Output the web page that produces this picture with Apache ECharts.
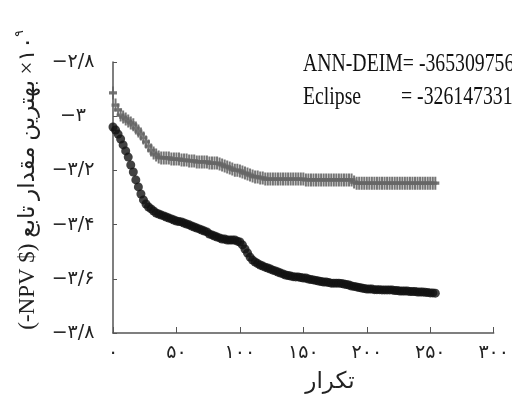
<!DOCTYPE html>
<html lang="fa">
<head>
    <meta charset="UTF-8">
    <title>ANN-DEIM / Eclipse</title>
    <script src="https://cdn.jsdelivr.net/npm/echarts@6/dist/echarts.min.js"></script>
    <style>
        html, body { margin: 0; padding: 0; background: #fff; }
    </style>
</head>
<body>
<div id="chart" style="width: 512px;height: 405px;"></div>
<script>
    // iterations sampled every 2 steps
    var iterations = Array.from({length: 128}, function (_, i) { return i * 2; });

    // best objective value (x 1e9)
    var annDeim = [
        -3.040, -3.051, -3.066, -3.084, -3.106, -3.128, -3.151, -3.180, -3.206, -3.235,
        -3.261, -3.287, -3.309, -3.324, -3.335, -3.342, -3.350, -3.357, -3.361, -3.365,
        -3.368, -3.372, -3.376, -3.379, -3.383, -3.387, -3.389, -3.390, -3.394, -3.398,
        -3.401, -3.405, -3.409, -3.413, -3.416, -3.420, -3.424, -3.427, -3.435, -3.438,
        -3.442, -3.446, -3.449, -3.453, -3.453, -3.457, -3.457, -3.457, -3.457, -3.461,
        -3.464, -3.475, -3.490, -3.505, -3.520, -3.531, -3.538, -3.544, -3.549, -3.553,
        -3.557, -3.560, -3.564, -3.568, -3.571, -3.575, -3.579, -3.582, -3.586, -3.588,
        -3.590, -3.592, -3.593, -3.593, -3.595, -3.597, -3.597, -3.601, -3.603, -3.604,
        -3.606, -3.608, -3.610, -3.612, -3.612, -3.614, -3.616, -3.616, -3.616, -3.616,
        -3.617, -3.619, -3.621, -3.623, -3.627, -3.628, -3.630, -3.632, -3.634, -3.636,
        -3.638, -3.638, -3.638, -3.640, -3.640, -3.640, -3.641, -3.641, -3.641, -3.641,
        -3.641, -3.643, -3.643, -3.645, -3.645, -3.645, -3.645, -3.647, -3.647, -3.647,
        -3.649, -3.649, -3.649, -3.650, -3.651, -3.652, -3.652, -3.653
    ];
    var eclipse = [
        -2.914, -2.959, -2.977, -2.996, -3.003, -3.010, -3.018, -3.025, -3.032, -3.044,
        -3.055, -3.066, -3.080, -3.095, -3.110, -3.125, -3.136, -3.143, -3.151, -3.154,
        -3.154, -3.154, -3.154, -3.158, -3.158, -3.158, -3.158, -3.162, -3.162, -3.162,
        -3.165, -3.165, -3.165, -3.169, -3.169, -3.169, -3.169, -3.169, -3.173, -3.173,
        -3.173, -3.173, -3.176, -3.180, -3.184, -3.187, -3.191, -3.195, -3.199, -3.199,
        -3.202, -3.206, -3.210, -3.213, -3.217, -3.221, -3.224, -3.224, -3.228, -3.228,
        -3.232, -3.232, -3.232, -3.232, -3.232, -3.232, -3.232, -3.232, -3.232, -3.232,
        -3.232, -3.232, -3.232, -3.232, -3.232, -3.232, -3.235, -3.235, -3.235, -3.235,
        -3.235, -3.235, -3.235, -3.235, -3.235, -3.235, -3.235, -3.235, -3.235, -3.235,
        -3.235, -3.235, -3.235, -3.235, -3.235, -3.243, -3.247, -3.247, -3.247, -3.247,
        -3.247, -3.247, -3.247, -3.247, -3.247, -3.247, -3.247, -3.247, -3.247, -3.247,
        -3.247, -3.247, -3.247, -3.247, -3.247, -3.247, -3.247, -3.247, -3.247, -3.247,
        -3.247, -3.247, -3.247, -3.247, -3.247, -3.247, -3.247, -3.247
    ];

    var xTickLabels = ['۰', '۵۰', '۱۰۰', '۱۵۰', '۲۰۰', '۲۵۰', '۳۰۰'];
    var yTickLabels = ['−۳/۸', '−۳/۶', '−۳/۴', '−۳/۲', '−۳', '−۲/۸'];
    var legendNames = ['ANN-DEIM', 'Eclipse'];
    var legendValues = ['-365309756', '-326147331'];
    var xTitle = 'تکرار';
    var yTitle = '(-NPV $) بهترین مقدار تابع\u200E ×۱۰';
    var yTitleExp = '۹';

    function pairs(xs, ys) {
        return ys.map(function (v, i) { return [xs[i], v]; });
    }

    var myChart = echarts.init(document.getElementById('chart'), null, {renderer: 'canvas'});
    var labelFont = "'DejaVu Sans', sans-serif";
    var serifFont = "'Liberation Serif', serif";
    var option = {
        backgroundColor: '#fff',
        animation: false,
        grid: {left: 113, right: 15, top: 62, bottom: 72},
        xAxis: {
            type: 'value',
            min: 0, max: 300, interval: 50,
            axisLine: {lineStyle: {color: '#555', width: 1.5}},
            axisTick: {inside: true, length: 6, lineStyle: {color: '#555'}},
            splitLine: {show: false},
            axisLabel: {
                margin: 11, color: '#222', fontSize: 19, fontFamily: labelFont,
                formatter: function (v) { return xTickLabels[Math.round(v / 50)]; }
            }
        },
        yAxis: {
            type: 'value',
            min: -3.8, max: -2.8, interval: 0.2,
            axisLine: {show: true, lineStyle: {color: '#555', width: 1.5}},
            axisTick: {show: true, inside: true, length: 4, lineStyle: {color: '#555'}},
            splitLine: {show: false},
            axisLabel: {
                margin: 40, align: 'center', color: '#222', fontSize: 19, fontFamily: labelFont,
                formatter: function (v) { return yTickLabels[Math.round((v + 3.8) / 0.2)]; }
            }
        },
        series: [
            {
                name: legendNames[1],
                type: 'scatter',
                data: pairs(iterations, eclipse),
                symbol: 'path://M3,0H5V3H8V5H5V8H3V5H0V3H3Z',
                symbolSize: [8, 13],
                itemStyle: {color: '#666', opacity: 0.9}
            },
            {
                name: legendNames[0],
                type: 'scatter',
                data: pairs(iterations, annDeim),
                symbol: 'circle',
                symbolSize: 9,
                itemStyle: {color: '#111'}
            }
        ],
        graphic: [
            {
                type: 'text', x: 303, y: 64, scaleX: 0.79,
                style: {
                    text: legendNames[0] + '= ' + legendValues[0],
                    fontFamily: serifFont, fontSize: 25,
                    fill: '#111', verticalAlign: 'middle'
                }
            },
            {
                type: 'text', x: 303, y: 97, scaleX: 0.79,
                style: {
                    text: legendNames[1],
                    fontFamily: serifFont, fontSize: 25,
                    fill: '#111', verticalAlign: 'middle'
                }
            },
            {
                type: 'text', x: 401, y: 97, scaleX: 0.79,
                style: {
                    text: '= ' + legendValues[1],
                    fontFamily: serifFont, fontSize: 25,
                    fill: '#111', verticalAlign: 'middle'
                }
            },
            {
                type: 'text', x: 330, y: 382,
                style: {
                    text: xTitle, fontFamily: labelFont, fontSize: 23,
                    fill: '#222', align: 'center', verticalAlign: 'middle'
                }
            },
            {
                type: 'text', x: 28, y: 180, rotation: Math.PI / 2,
                style: {
                    text: '{a|' + yTitle + '}{b|' + yTitleExp + '}',
                    align: 'center', verticalAlign: 'middle',
                    rich: {
                        a: {fontFamily: "'Liberation Serif', 'DejaVu Sans', serif", fontSize: 23, fill: '#222'},
                        b: {fontFamily: labelFont, fontSize: 12, fill: '#222', padding: [0, 0, 16, 0]}
                    }
                }
            }
        ]
    };
    myChart.setOption(option);
</script>
</body>
</html>
